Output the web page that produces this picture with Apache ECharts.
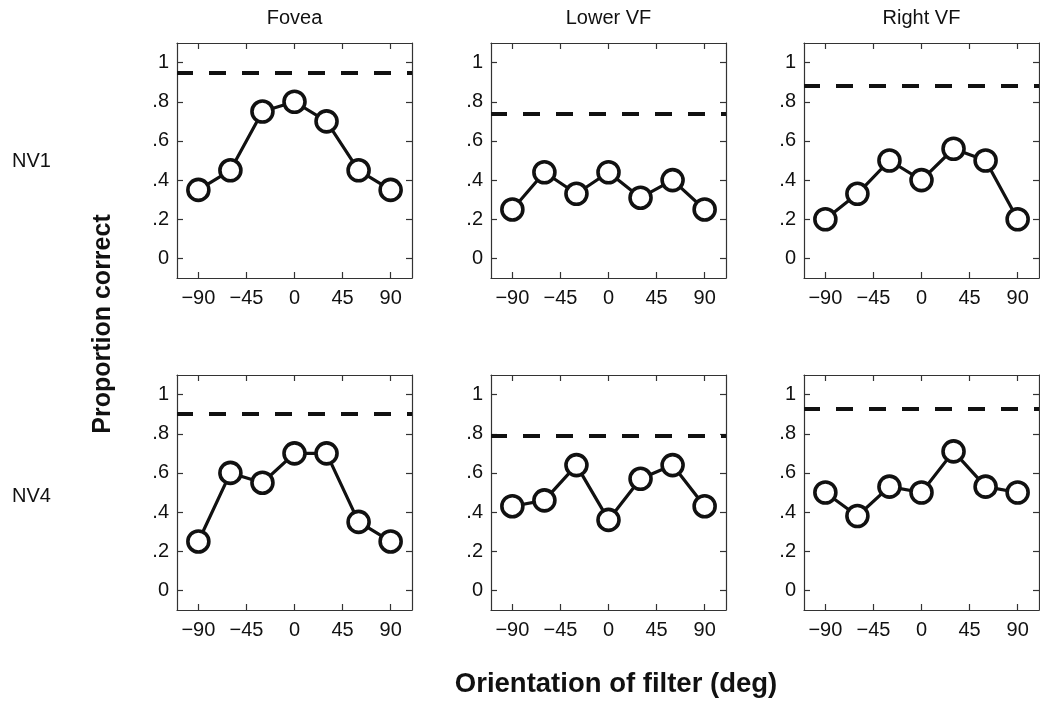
<!DOCTYPE html>
<html>
<head>
<meta charset="utf-8">
<script src="https://cdn.jsdelivr.net/npm/echarts@6/dist/echarts.min.js"></script>
<style>
html,body{margin:0;padding:0;background:#fff;}
#chart{width:1040px;height:703px;}
</style>
</head>
<body>
<div id="chart"></div>
<script>
// ---- data ----
const orientations = [-90, -60, -30, 0, 30, 60, 90];
const columnTitles = ['Fovea', 'Lower VF', 'Right VF'];
const rowTitles = ['NV1', 'NV4'];
const xTicks = [-90, -45, 0, 45, 90];
const yTicks = [0, 0.2, 0.4, 0.6, 0.8, 1];

const nv1Fovea  = [0.35, 0.45, 0.75, 0.80, 0.70, 0.45, 0.35];
const nv1Lower  = [0.25, 0.44, 0.33, 0.44, 0.31, 0.40, 0.25];
const nv1Right  = [0.20, 0.33, 0.50, 0.40, 0.56, 0.50, 0.20];
const nv4Fovea  = [0.25, 0.60, 0.55, 0.70, 0.70, 0.35, 0.25];
const nv4Lower  = [0.43, 0.46, 0.64, 0.36, 0.57, 0.64, 0.43];
const nv4Right  = [0.50, 0.38, 0.53, 0.50, 0.71, 0.53, 0.50];

const nv1Reference = [0.95, 0.74, 0.875];
const nv4Reference = [0.90, 0.786, 0.93];

const xTitle = 'Orientation of filter (deg)';
const yTitle = 'Proportion correct';

// ---- layout ----
const panels = [
  [nv1Fovea, nv1Lower, nv1Right],
  [nv4Fovea, nv4Lower, nv4Right]
];
const refs = [nv1Reference, nv4Reference];
const colLeft = [177, 491, 804];
const rowTop = [43, 375];
const W = 235, H = 235;
const FONT = '"Liberation Sans", Arial, Helvetica, sans-serif';
const AX = '#333';

const grids = [], xAxes = [], yAxes = [], series = [];
function fmtX(v){ return String(v).replace('-', '\u2212'); }
function fmtY(v){ if (v === 0) return '0'; if (v === 1) return '1'; return String(v).replace(/^0/, ''); }

let g = 0;
for (let r = 0; r < 2; r++) {
  for (let c = 0; c < 3; c++) {
    grids.push({left: colLeft[c], top: rowTop[r], width: W, height: H, show: false, containLabel: false});
    const tickCommon = {show: true, inside: true, length: 6, lineStyle: {color: AX, width: 1.2}};
    xAxes.push({
      type: 'value', gridIndex: g, position: 'bottom', min: -110, max: 110,
      axisLine: {show: true, onZero: false, lineStyle: {color: AX, width: 1.2}},
      axisTick: Object.assign({customValues: xTicks}, tickCommon),
      axisLabel: {show: true, customValues: xTicks, formatter: fmtX, color: '#111', fontSize: 20, fontFamily: FONT, margin: 10},
      splitLine: {show: false}
    });
    xAxes.push({
      type: 'value', gridIndex: g, position: 'top', min: -110, max: 110,
      axisLine: {show: true, onZero: false, lineStyle: {color: AX, width: 1.2}},
      axisTick: Object.assign({customValues: xTicks}, tickCommon),
      axisLabel: {show: false}, splitLine: {show: false}
    });
    yAxes.push({
      type: 'value', gridIndex: g, position: 'left', min: -0.1, max: 1.1,
      axisLine: {show: true, onZero: false, lineStyle: {color: AX, width: 1.2}},
      axisTick: Object.assign({customValues: yTicks}, tickCommon),
      axisLabel: {show: true, customValues: yTicks, formatter: fmtY, color: '#111', fontSize: 20, fontFamily: FONT, margin: 8},
      splitLine: {show: false}
    });
    yAxes.push({
      type: 'value', gridIndex: g, position: 'right', min: -0.1, max: 1.1,
      axisLine: {show: true, onZero: false, lineStyle: {color: AX, width: 1.2}},
      axisTick: Object.assign({customValues: yTicks}, tickCommon),
      axisLabel: {show: false}, splitLine: {show: false}
    });
    const vals = panels[r][c];
    series.push({
      type: 'line', xAxisIndex: 2 * g, yAxisIndex: 2 * g,
      data: orientations.map((o, i) => [o, vals[i]]),
      symbol: 'circle', symbolSize: 21, showAllSymbol: true,
      lineStyle: {color: '#111', width: 3.2},
      itemStyle: {color: '#fff', borderColor: '#111', borderWidth: 3.6},
      z: 3,
      markLine: {
        silent: true, symbol: ['none', 'none'], animation: false,
        label: {show: false},
        lineStyle: {color: '#111', width: 4, type: [17, 16], dashOffset: 1},
        data: [{yAxis: refs[r][c]}]
      }
    });
    g++;
  }
}

const graphics = [];
const colCenters = colLeft.map(l => l + W / 2);
columnTitles.forEach((t, i) => graphics.push({
  type: 'text', x: colCenters[i], y: 18,
  style: {text: t, font: '20px ' + FONT, fill: '#111', align: 'center', verticalAlign: 'middle'}
}));
const rowCenters = [161, 496];
rowTitles.forEach((t, i) => graphics.push({
  type: 'text', x: 12, y: rowCenters[i],
  style: {text: t, font: '20px ' + FONT, fill: '#111', align: 'left', verticalAlign: 'middle'}
}));
graphics.push({
  type: 'text', x: 103, y: 324, rotation: Math.PI / 2,
  style: {text: yTitle, font: 'bold 25px ' + FONT, fill: '#111', align: 'center', verticalAlign: 'middle'}
});
graphics.push({
  type: 'text', x: 616, y: 684,
  style: {text: xTitle, font: 'bold 27.5px ' + FONT, fill: '#111', align: 'center', verticalAlign: 'middle'}
});

const chart = echarts.init(document.getElementById('chart'), null, {renderer: 'canvas'});
chart.setOption({
  animation: false,
  backgroundColor: '#fff',
  grid: grids, xAxis: xAxes, yAxis: yAxes, series: series,
  graphic: graphics
});
</script>
</body>
</html>
